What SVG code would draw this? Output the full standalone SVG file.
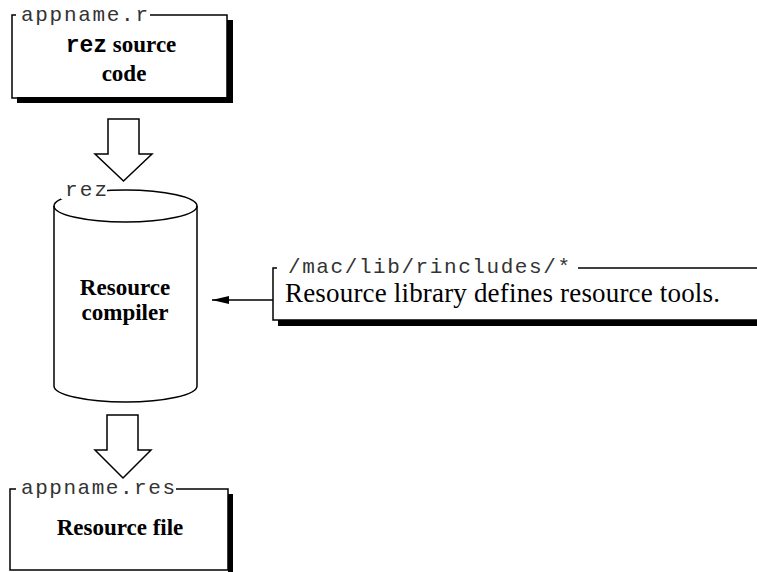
<svg xmlns="http://www.w3.org/2000/svg" width="757" height="572" viewBox="0 0 757 572">
<style>
  .ln { fill: none; stroke: #000; stroke-width: 1.5; }
  .shadow { fill: #000; }
  .mono { font-family: "Liberation Mono", "Courier New", monospace; font-size: 21px; fill: #333; }
  .bold { font-family: "Liberation Serif", "Times New Roman", serif; font-size: 23px; font-weight: bold; fill: #000; }
  .monob { font-family: "Liberation Mono", "Courier New", monospace; font-weight: bold; }
  .body { font-family: "Liberation Serif", "Times New Roman", serif; font-size: 27px; fill: #000; }
  .arrow { fill: #fff; stroke: #000; stroke-width: 1.5; stroke-linejoin: miter; }
</style>
<defs>
  <marker id="head" markerWidth="17" markerHeight="8" refX="17" refY="4" orient="auto" markerUnits="userSpaceOnUse">
    <path d="M0,0 L17,4 L0,8 Z" fill="#000"/>
  </marker>
</defs>
<rect width="757" height="572" fill="#fff"/>

<g id="source">
  <rect class="shadow" x="227" y="20" width="6" height="83"/>
  <rect class="shadow" x="17" y="97" width="216" height="6"/>
  <path class="ln" d="M16,15 H12 V98 H227 V15 H150"/>
  <text class="mono" x="21" y="21" textLength="127">appname.r</text>
  <text class="bold" x="121" y="52" text-anchor="middle"><tspan class="monob">rez</tspan> source</text>
  <text class="bold" x="124" y="81" text-anchor="middle">code</text>
</g>

<g id="compiler">
  <path class="ln" d="M54,206 A71.5,16 0 0 1 197,206 V386 A71.5,16 0 0 1 54,386 Z" fill="#fff"/>
  <path class="ln" d="M54,206 A71.5,16 0 0 0 197,206"/>
  <rect x="61" y="181" width="46" height="18" fill="#fff"/>
  <text class="mono" x="65" y="196" textLength="42">rez</text>
  <text class="bold" x="125" y="295" text-anchor="middle">Resource</text>
  <text class="bold" x="125" y="320" text-anchor="middle">compiler</text>
</g>

<g id="library">
  <rect class="shadow" x="278" y="320" width="479" height="6"/>
  <path class="ln" d="M277,268 H273 V320 H757"/>
  <path class="ln" d="M578,268 H757"/>
  <text class="mono" x="288" y="273" textLength="282">/mac/lib/rincludes/*</text>
  <text class="body" x="285" y="302" textLength="435">Resource library defines resource tools.</text>
</g>

<g id="resfile">
  <rect class="shadow" x="228" y="494" width="5" height="78"/>
  <path class="ln" d="M16,489 H10 V570 H228 V489 H176"/>
  <text class="mono" x="21" y="494" textLength="154">appname.res</text>
  <text class="bold" x="120" y="535" text-anchor="middle">Resource file</text>
</g>

<g id="connectors">
  <polygon class="arrow" points="108,119 139,119 139,154 152,154 123.5,181 95,154 108,154"/>
  <polygon class="arrow" points="107,415 138,415 138,450 151,450 123,478 95,450 107,450"/>
  <line x1="273" y1="300" x2="212" y2="300" stroke="#000" stroke-width="1.3" marker-end="url(#head)"/>
</g>
</svg>
